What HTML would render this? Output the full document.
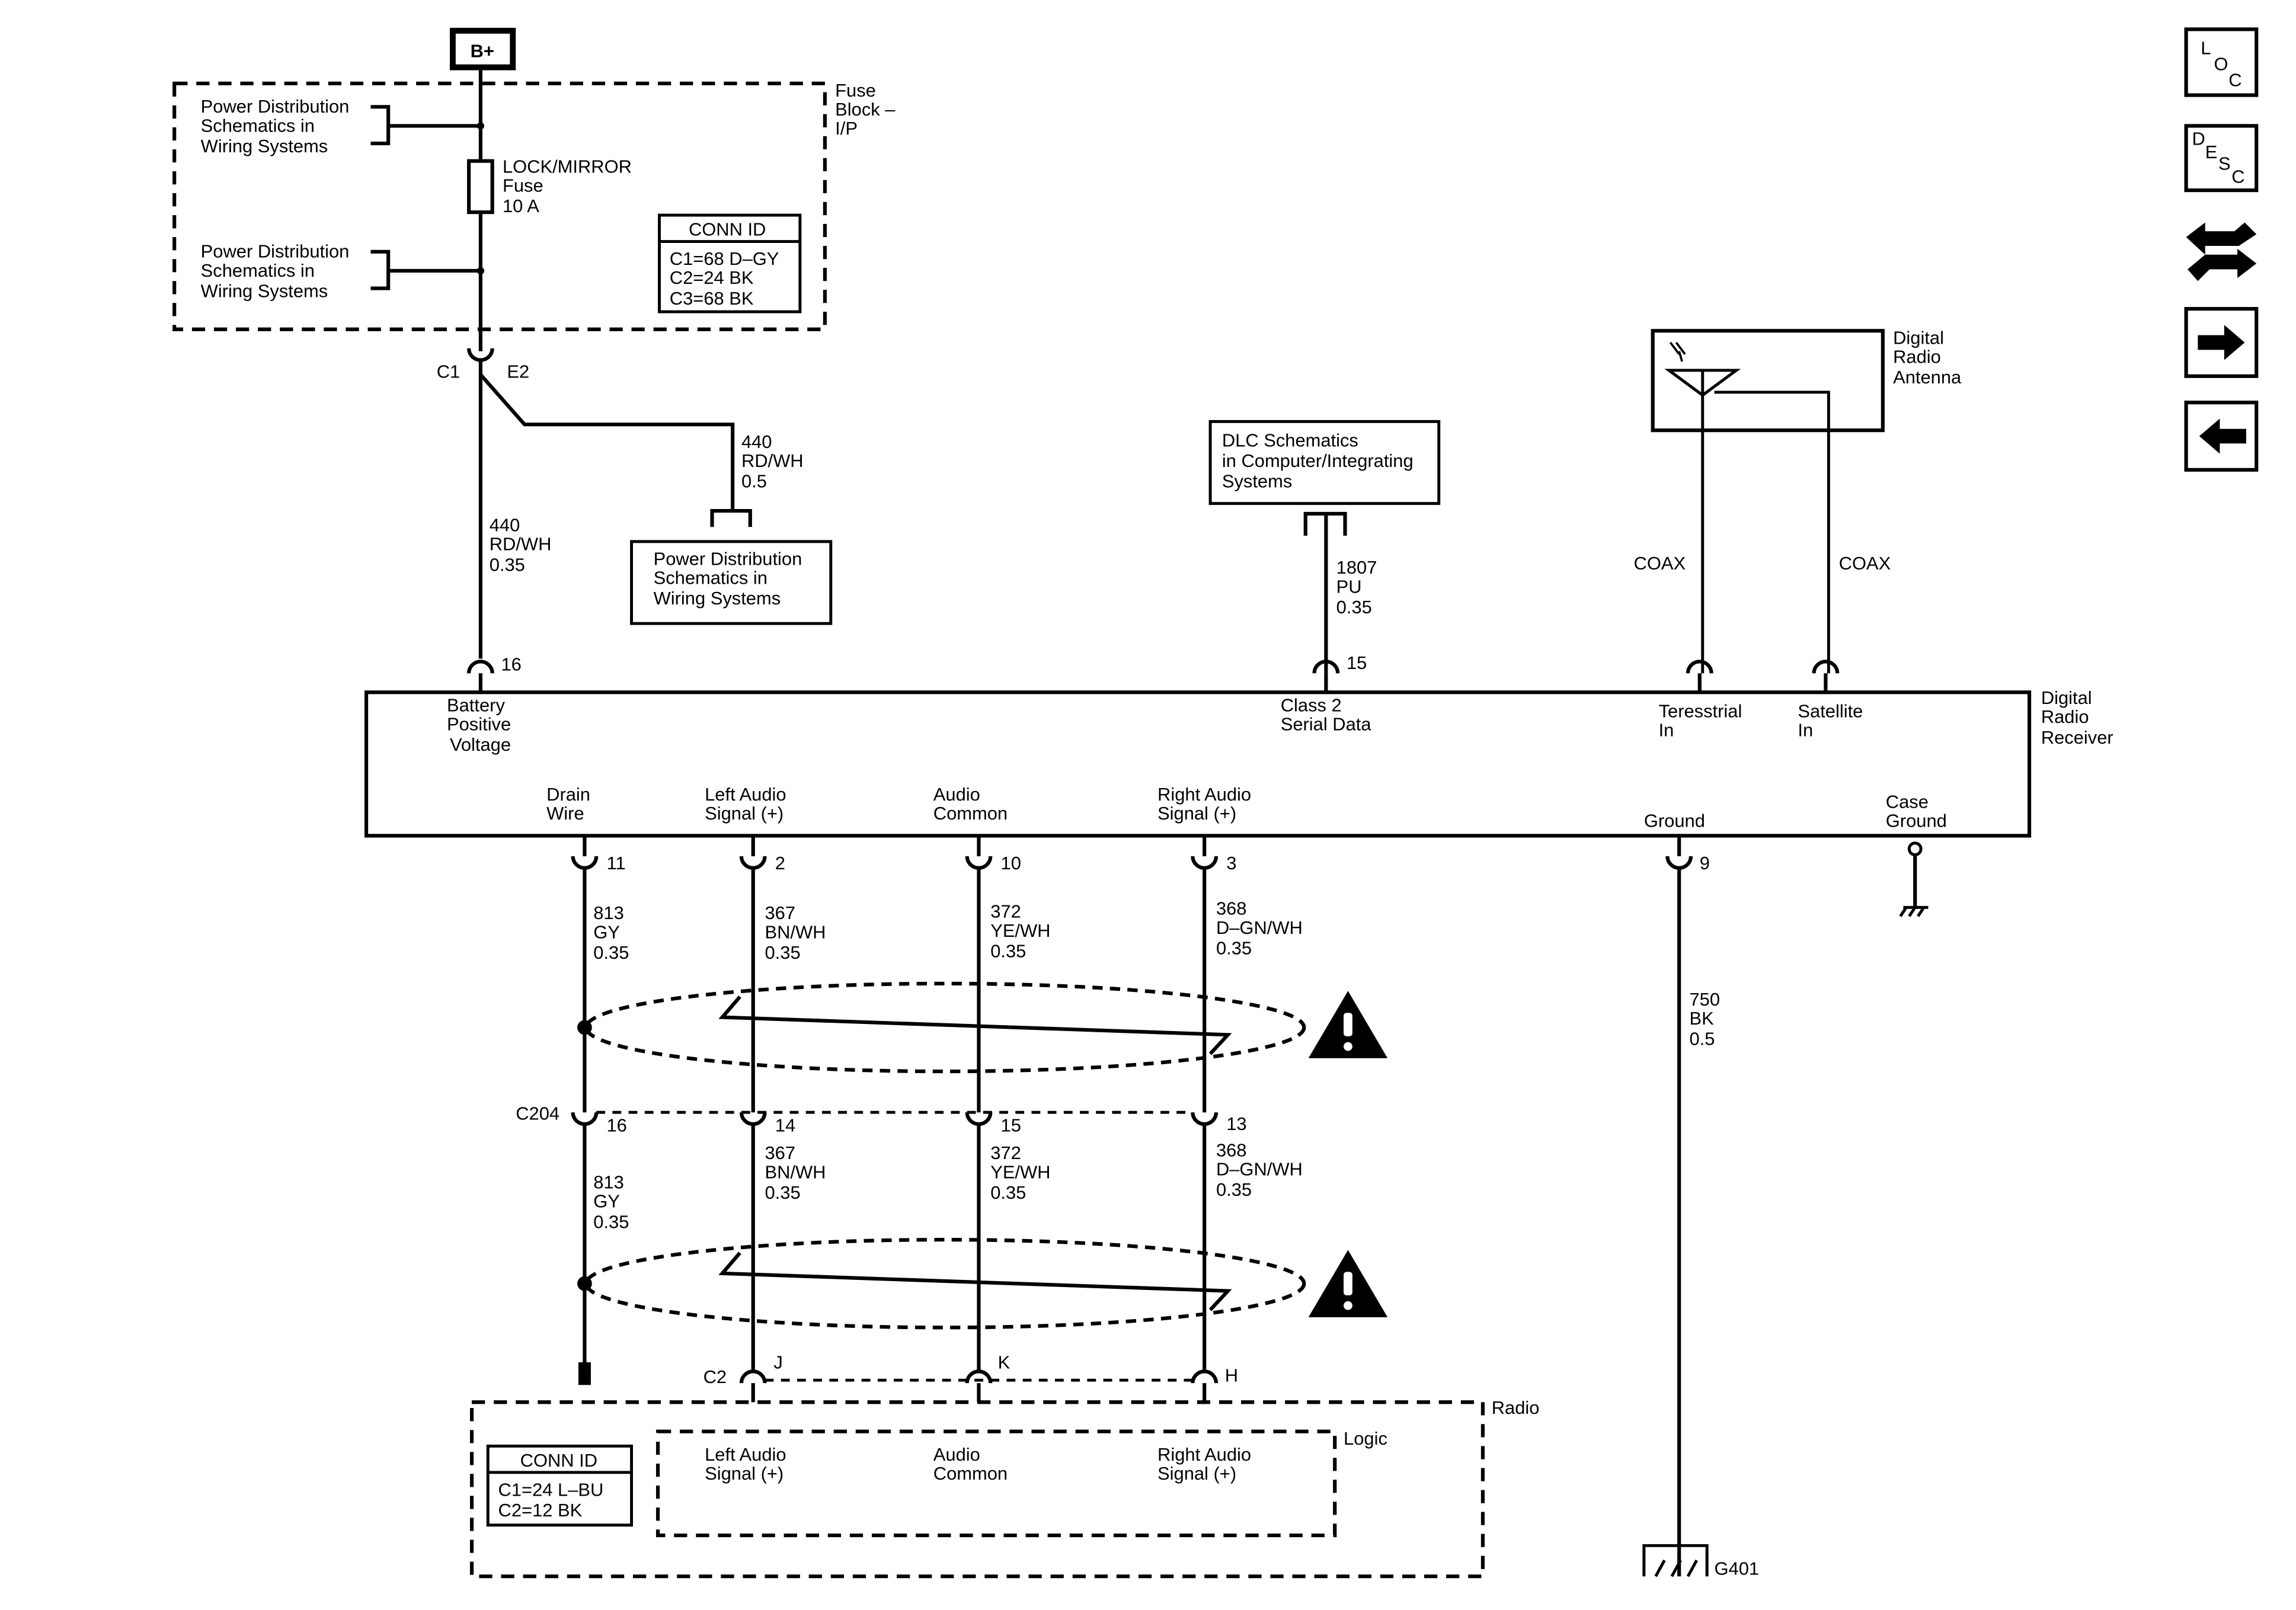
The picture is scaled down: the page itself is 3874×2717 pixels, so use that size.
<!DOCTYPE html>
<html><head><meta charset="utf-8"><style>
html,body{margin:0;padding:0;background:#fff;}
svg{display:block}
text{font-family:"Liberation Sans",Arial,sans-serif;font-size:12.5px;fill:#000}
</style></head><body>
<svg width="3874" height="2717" viewBox="0 0 1567 1100" preserveAspectRatio="none" xmlns="http://www.w3.org/2000/svg">
<rect width="1567" height="1100" fill="#fff"/>
<g fill="none" stroke="#000" stroke-width="2.5">
<rect x="309" y="21" width="41" height="25" stroke-width="4"/>
<rect x="119" y="57" width="444" height="168" stroke-dasharray="9,6"/>
<line x1="328" y1="46" x2="328" y2="240"/>
<path d="M253 73H265V98H253M265 86H328"/>
<path d="M253 172H265V197H253M265 185H328"/>
<rect x="320" y="110" width="16" height="35" fill="#fff"/>
<rect x="450" y="147" width="96" height="66" stroke-width="2"/>
<line x1="450" y1="165" x2="546" y2="165" stroke-width="2"/>
<path d="M320 238 A8 8 0 0 0 336 238"/>
<line x1="328" y1="246" x2="328" y2="450"/>
<path d="M328 256 L358 290 H500 V348"/>
<path d="M486 360 V349 H512 V360"/>
<rect x="431" y="370" width="136" height="56" stroke-width="2"/>
<path d="M320 460 A8 8 0 0 1 336 460"/>
<line x1="328" y1="460" x2="328" y2="473"/>
<rect x="250" y="473" width="1135" height="98"/>
<rect x="826" y="288" width="156" height="56" stroke-width="2"/>
<path d="M891 366 V351 H918 V366 M905 351 V460"/>
<path d="M897 460 A8 8 0 0 1 913 460"/><line x1="905" y1="460" x2="905" y2="473"/>
<rect x="1128" y="226" width="157" height="68" stroke-width="2.5"/>
<path d="M1139 253 H1185 L1162 270 Z" stroke-width="2"/>
<path d="M1162 253 V460 M1170 268 H1248 V460" stroke-width="2"/>
<path d="M1152 460 A8 8 0 0 1 1168 460"/><line x1="1160" y1="460" x2="1160" y2="473"/>
<path d="M1238 460 A8 8 0 0 1 1254 460"/><line x1="1246" y1="460" x2="1246" y2="473"/>
<g>
<path d="M399 571 V945 M514 571 V958 M668 571 V958 M822 571 V958 M1146 571 V1077"/>
<path d="M391 585 A8 8 0 0 0 407 585 M506 585 A8 8 0 0 0 522 585 M660 585 A8 8 0 0 0 676 585 M814 585 A8 8 0 0 0 830 585 M1138 585 A8 8 0 0 0 1154 585" fill="#fff"/>
<path d="M391 760 A8 8 0 0 0 407 760 M506 760 A8 8 0 0 0 522 760 M660 760 A8 8 0 0 0 676 760 M814 760 A8 8 0 0 0 830 760" fill="#fff"/>
<line x1="407" y1="760" x2="814" y2="760" stroke-dasharray="6,5" stroke-width="2"/>
<path d="M506 945 A8 8 0 0 1 522 945 M660 945 A8 8 0 0 1 676 945 M814 945 A8 8 0 0 1 830 945" fill="#fff"/>
<line x1="522" y1="943" x2="814" y2="943" stroke-dasharray="6,5" stroke-width="2"/>
</g>
<rect x="396" y="932" width="6" height="13" fill="#000"/>
<ellipse cx="645" cy="702" rx="245" ry="30" stroke-dasharray="7,5"/>
<ellipse cx="645" cy="877" rx="245" ry="30" stroke-dasharray="7,5"/>
<path d="M505 681 L493 695 L838 707 L826 720"/>
<path d="M505 856 L493 870 L838 882 L826 895"/>
<path d="M1307 583 V620"/>
<path d="M1299 620 H1316 M1301 620 L1297 626 M1307 620 L1303 626 M1313 620 L1309 626" stroke-width="2"/>
<path d="M1122 1077 V1056 H1165 V1077 M1130 1077 L1136 1066 M1141 1077 L1147 1066 M1152 1077 L1158 1066" stroke-width="2"/>
<rect x="322" y="958" width="690" height="119" stroke-dasharray="9,6"/>
<rect x="449" y="978" width="462" height="71" stroke-dasharray="9,6"/>
<rect x="333" y="988" width="98" height="54" stroke-width="2"/>
<line x1="333" y1="1006" x2="431" y2="1006" stroke-width="2"/>
<rect x="1492" y="20" width="48" height="45" stroke-width="2.5"/>
<rect x="1492" y="86" width="48" height="44" stroke-width="2.5"/>
<rect x="1492" y="211" width="48" height="46" stroke-width="2.5"/>
<rect x="1492" y="275" width="48" height="46" stroke-width="2.5"/>
</g>
<circle cx="328" cy="86" r="2.5"/><circle cx="328" cy="185" r="2.5"/>
<circle cx="1307" cy="580" r="4" fill="#fff" stroke="#000" stroke-width="2"/>
<circle cx="399" cy="702" r="5"/><circle cx="399" cy="877" r="5"/>
<g>
<path d="M920 677 L947 723 H893 Z"/><rect x="917" y="692" width="6" height="16" fill="#fff" rx="2"/><circle cx="920" cy="715" r="3" fill="#fff"/>
<path d="M920 854 L947 900 H893 Z"/><rect x="917" y="869" width="6" height="16" fill="#fff" rx="2"/><circle cx="920" cy="892" r="3" fill="#fff"/>
</g>
<path d="M1140 234 L1146 242 M1144 234 L1150 242 M1146 240 L1148 247" stroke="#000" stroke-width="1.5"/>
<path d="M1500 229 H1518 V222 L1532 234 L1518 246 V239 H1500 Z"/>
<path d="M1533 293 H1515 V286 L1501 298 L1515 310 V303 H1533 Z"/>
<path d="M1492 162 L1505 152 V158 H1525 L1532 152 L1540 160 L1528 168 H1505 V174 Z M1540 180 L1527 190 V184 H1508 L1500 192 L1493 184 L1505 174 H1527 V170 Z" fill="#000"/>
<text x="1502" y="37">L</text><text x="1511" y="48">O</text><text x="1521" y="59">C</text>
<text x="1496" y="99">D</text><text x="1505" y="108">E</text><text x="1514" y="116">S</text><text x="1523" y="125">C</text>
<text x="321" y="39" font-weight="bold" font-size="12">B+</text>
<text x="570" y="66">Fuse</text><text x="570" y="79">Block –</text><text x="570" y="92">I/P</text>
<text x="137" y="77">Power Distribution</text><text x="137" y="90">Schematics in</text><text x="137" y="104">Wiring Systems</text>
<text x="137" y="176">Power Distribution</text><text x="137" y="189">Schematics in</text><text x="137" y="203">Wiring Systems</text>
<text x="343" y="118">LOCK/MIRROR</text><text x="343" y="131">Fuse</text><text x="343" y="145">10 A</text>
<text x="470" y="161">CONN ID</text><text x="457" y="181">C1=68 D–GY</text><text x="457" y="194">C2=24 BK</text><text x="457" y="208">C3=68 BK</text>
<text x="298" y="258">C1</text><text x="346" y="258">E2</text>
<text x="506" y="306">440</text><text x="506" y="319">RD/WH</text><text x="506" y="333">0.5</text>
<text x="446" y="386">Power Distribution</text><text x="446" y="399">Schematics in</text><text x="446" y="413">Wiring Systems</text>
<text x="334" y="363">440</text><text x="334" y="376">RD/WH</text><text x="334" y="390">0.35</text>
<text x="342" y="458">16</text>
<text x="834" y="305">DLC Schematics</text><text x="834" y="319">in Computer/Integrating</text><text x="834" y="333">Systems</text>
<text x="912" y="392">1807</text><text x="912" y="405">PU</text><text x="912" y="419">0.35</text>
<text x="919" y="457">15</text>
<text x="1292" y="235">Digital</text><text x="1292" y="248">Radio</text><text x="1292" y="262">Antenna</text>
<text x="1115" y="389">COAX</text><text x="1255" y="389">COAX</text>
<text x="1393" y="481">Digital</text><text x="1393" y="494">Radio</text><text x="1393" y="508">Receiver</text>
<text x="305" y="486">Battery</text><text x="305" y="499">Positive</text><text x="307" y="513">Voltage</text>
<text x="874" y="486">Class 2</text><text x="874" y="499">Serial Data</text>
<text x="1132" y="490">Teresstrial</text><text x="1132" y="503">In</text>
<text x="1227" y="490">Satellite</text><text x="1227" y="503">In</text>
<text x="373" y="547">Drain</text><text x="373" y="560">Wire</text>
<text x="481" y="547">Left Audio</text><text x="481" y="560">Signal (+)</text>
<text x="637" y="547">Audio</text><text x="637" y="560">Common</text>
<text x="790" y="547">Right Audio</text><text x="790" y="560">Signal (+)</text>
<text x="1122" y="565">Ground</text>
<text x="1287" y="552">Case</text><text x="1287" y="565">Ground</text>
<text x="414" y="594">11</text><text x="529" y="594">2</text><text x="683" y="594">10</text><text x="837" y="594">3</text><text x="1160" y="594">9</text>
<text x="405" y="628">813</text><text x="405" y="641">GY</text><text x="405" y="655">0.35</text>
<text x="522" y="628">367</text><text x="522" y="641">BN/WH</text><text x="522" y="655">0.35</text>
<text x="676" y="627">372</text><text x="676" y="640">YE/WH</text><text x="676" y="654">0.35</text>
<text x="830" y="625">368</text><text x="830" y="638">D–GN/WH</text><text x="830" y="652">0.35</text>
<text x="1153" y="687">750</text><text x="1153" y="700">BK</text><text x="1153" y="714">0.5</text>
<text x="352" y="765">C204</text>
<text x="414" y="773">16</text><text x="529" y="773">14</text><text x="683" y="773">15</text><text x="837" y="772">13</text>
<text x="405" y="812">813</text><text x="405" y="825">GY</text><text x="405" y="839">0.35</text>
<text x="522" y="792">367</text><text x="522" y="805">BN/WH</text><text x="522" y="819">0.35</text>
<text x="676" y="792">372</text><text x="676" y="805">YE/WH</text><text x="676" y="819">0.35</text>
<text x="830" y="790">368</text><text x="830" y="803">D–GN/WH</text><text x="830" y="817">0.35</text>
<text x="480" y="945">C2</text><text x="528" y="935">J</text><text x="681" y="935">K</text><text x="836" y="944">H</text>
<text x="1018" y="966">Radio</text><text x="917" y="987">Logic</text>
<text x="355" y="1002">CONN ID</text><text x="340" y="1022">C1=24 L–BU</text><text x="340" y="1036">C2=12 BK</text>
<text x="481" y="998">Left Audio</text><text x="481" y="1011">Signal (+)</text>
<text x="637" y="998">Audio</text><text x="637" y="1011">Common</text>
<text x="790" y="998">Right Audio</text><text x="790" y="1011">Signal (+)</text>
<text x="1170" y="1076">G401</text>
</svg>
</body></html>
